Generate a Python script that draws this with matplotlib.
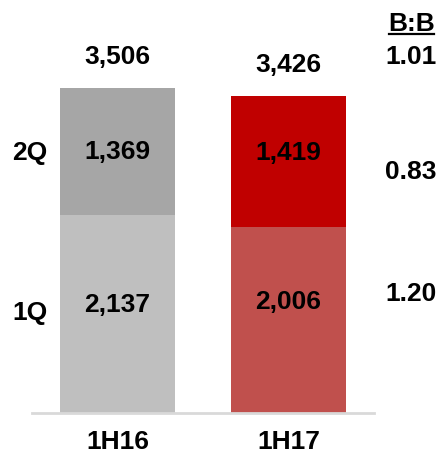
import matplotlib
matplotlib.use("Agg")
import matplotlib.pyplot as plt
from matplotlib.lines import Line2D

# Half-year totals split by quarter
categories = ["1H16", "1H17"]
q1_values = [2137, 2006]
q2_values = [1369, 1419]
totals = [3506, 3426]
quarter_labels = ["1Q", "2Q"]
ratio_header = "B:B"
ratios = ["1.01", "0.83", "1.20"]

q1_colors = ["#bfbfbf", "#c0504d"]
q2_colors = ["#a6a6a6", "#c00000"]

W, H = 440, 455
plt.rcParams["font.family"] = ["Liberation Sans", "DejaVu Sans"]
FS = 19

fig = plt.figure(figsize=(W / 100, H / 100), dpi=100)
ax = fig.add_axes([32 / W, (H - 413) / H, 342 / W, 413 / H])

x = list(range(len(categories)))

ax.bar(x, q1_values, width=0.667, color=q1_colors, zorder=2)
ax.bar(x, q2_values, width=0.667, bottom=q1_values, color=q2_colors, zorder=2)

ax.set_xlim(-0.5, 1.5)
ax.set_ylim(0, 4460)
for s in ["top", "right", "left"]:
    ax.spines[s].set_visible(False)
ax.spines["bottom"].set_color("#d9d9d9")
ax.spines["bottom"].set_linewidth(2)
ax.set_yticks([])
ax.set_xticks(x)
ax.set_xticklabels(categories, fontsize=FS, fontweight="bold")
ax.tick_params(axis="x", length=0, pad=12)

# value labels inside segments (vertical nudge in pixels)
q1_nudge = [9, 18]
q2_nudge = [0, 9]
for i in x:
    ax.annotate(f"{q1_values[i]:,}", (i, q1_values[i] / 2), xytext=(0, q1_nudge[i] * 0.72),
                textcoords="offset points", ha="center", va="center",
                fontsize=FS, fontweight="bold", zorder=3)
    ax.annotate(f"{q2_values[i]:,}", (i, q1_values[i] + q2_values[i] / 2),
                xytext=(0, q2_nudge[i] * 0.72), textcoords="offset points",
                ha="center", va="center", fontsize=FS, fontweight="bold", zorder=3)
    ax.annotate(f"{totals[i]:,}", (i, totals[i]), xytext=(0, 31 * 0.72),
                textcoords="offset points", ha="center", va="center",
                fontsize=FS, fontweight="bold")


def ftext(px, py, s, **kw):
    fig.text(px / W, 1 - py / H, s, ha="center", va="center",
             fontsize=FS, fontweight="bold", **kw)


# quarter row labels on the left
ftext(30, 313, quarter_labels[0])
ftext(30, 153, quarter_labels[1])

# ratio column on the right
ftext(411.5, 24, ratio_header)
fig.add_artist(Line2D([389 / W, 434 / W], [1 - 34 / H, 1 - 34 / H],
                      transform=fig.transFigure, color="black", linewidth=1.6))
for txt, py in zip(ratios, [57, 172, 294]):
    ftext(411, py, txt)

fig.savefig("out.png", dpi=100)
